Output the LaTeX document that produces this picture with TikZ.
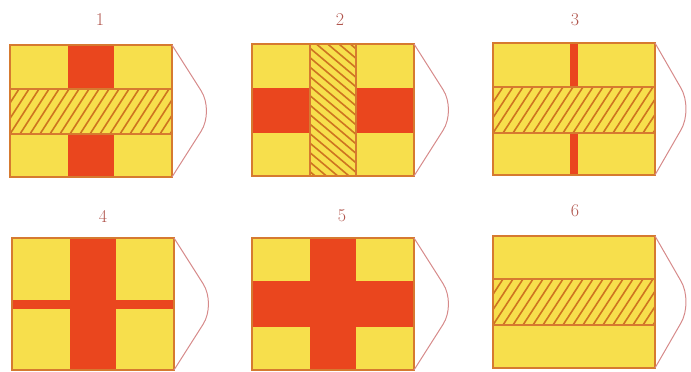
\documentclass[tikz,border=0pt]{standalone}
\usepackage{tikz}
\definecolor{flagyellow}{RGB}{247,223,76}
\definecolor{flagred}{RGB}{234,70,30}
\definecolor{flagedge}{RGB}{214,122,48}
\definecolor{hatchline}{RGB}{206,116,32}
\definecolor{tipline}{RGB}{214,138,138}
\definecolor{numcol}{RGB}{176,84,76}
\begin{document}
\begin{tikzpicture}[x=1pt, y=-1pt,
  field/.style={fill=flagyellow},
  redpart/.style={fill=flagred},
  hatch/.style={draw=hatchline, line width=1.6pt},
  edge/.style={draw=flagedge, line width=1.3pt},
  tip/.style={draw=tipline, line width=1pt, rounded corners=24pt},
  num/.style={font=\fontsize{18}{20}\selectfont, text=numcol}]
\useasboundingbox (0,0) rectangle (691,372);
% ================= flag 1 =================
\begin{scope}[shift={(10,45)}]
\node[num] (n1) at (90,-25) {1};
\fill[field] (0,0) rectangle (162,132);
\fill[redpart] (58,0) rectangle (104,132);
\fill[field] (0,44) rectangle (162,89);
\begin{scope}
\clip (0,44) rectangle (162,89);
\foreach \x in {-40,-30,...,170}{\draw[hatch] (\x,89) -- ++(29,-45);}
\end{scope}
\draw[edge] (0,44) rectangle (162,89);
\draw[edge] (0,0) rectangle (162,132);
\draw[tip] (162,0) -- (204,66) -- (162,132);
\end{scope}
% ================= flag 2 =================
\begin{scope}[shift={(252,44)}]
\node[num] (n2) at (88,-24) {2};
\fill[field] (0,0) rectangle (162,132);
\fill[redpart] (0,44) rectangle (162,89);
\fill[field] (58,0) rectangle (104,132);
\begin{scope}
\clip (58,0) rectangle (104,132);
\foreach \y in {-45,-35.5,...,135}{\draw[hatch] (56,\y) -- ++(50,42);}
\end{scope}
\draw[edge] (58,0) rectangle (104,132);
\draw[edge] (0,0) rectangle (162,132);
\draw[tip] (162,0) -- (204,66) -- (162,132);
\end{scope}
% ================= flag 3 =================
\begin{scope}[shift={(493,43)}]
\node[num] (n3) at (82,-23) {3};
\fill[field] (0,0) rectangle (162,132);
\fill[redpart] (77,0) rectangle (85,132);
\fill[field] (0,44) rectangle (162,90);
\begin{scope}
\clip (0,44) rectangle (162,90);
\foreach \x in {-40,-30,...,170}{\draw[hatch] (\x,90) -- ++(30,-46);}
\end{scope}
\draw[edge] (0,44) rectangle (162,90);
\draw[edge] (0,0) rectangle (162,132);
\draw[tip] (162,0) -- (200,66) -- (162,132);
\end{scope}
% ================= flag 4 =================
\begin{scope}[shift={(12,238)}]
\node[num] (n4) at (91,-22) {4};
\fill[field] (0,0) rectangle (162,132);
\fill[redpart] (58,0) rectangle (104,132);
\fill[redpart] (0,62) rectangle (162,71);
\draw[edge] (0,0) rectangle (162,132);
\draw[tip] (162,0) -- (204,66) -- (162,132);
\end{scope}
% ================= flag 5 =================
\begin{scope}[shift={(252,238)}]
\node[num] (n5) at (90,-22) {5};
\fill[field] (0,0) rectangle (162,132);
\fill[redpart] (58,0) rectangle (104,132);
\fill[redpart] (0,43) rectangle (162,89);
\draw[edge] (0,0) rectangle (162,132);
\draw[tip] (162,0) -- (204,66) -- (162,132);
\end{scope}
% ================= flag 6 =================
\begin{scope}[shift={(493,236)}]
\node[num] (n6) at (82,-25) {6};
\fill[field] (0,0) rectangle (162,132);
\begin{scope}
\clip (0,43) rectangle (162,89);
\foreach \x in {-40,-30,...,170}{\draw[hatch] (\x,89) -- ++(30,-46);}
\end{scope}
\draw[edge] (0,43) rectangle (162,89);
\draw[edge] (0,0) rectangle (162,132);
\draw[tip] (162,0) -- (200,66) -- (162,132);
\end{scope}
\end{tikzpicture}
\end{document}
